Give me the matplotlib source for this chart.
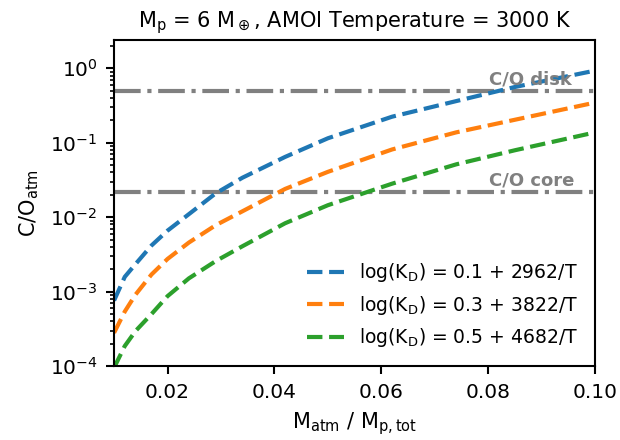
import numpy as np
import matplotlib
matplotlib.use("Agg")
import matplotlib.pyplot as plt

# mass fraction of atmosphere
x = [0.01, 0.012, 0.014, 0.017, 0.02, 0.024, 0.029, 0.034, 0.042, 0.05, 0.062, 0.074, 0.085, 0.1]

# C/O atm for each partition coefficient law
co_1 = [7.6e-4, 1.58e-3, 2.34e-3, 4.17e-3, 6.6e-3, 0.011, 0.0209, 0.0339, 0.0646, 0.115, 0.224, 0.363, 0.562, 0.933]
co_2 = [2.8e-4, 5.4e-4, 9.1e-4, 1.7e-3, 2.75e-3, 4.57e-3, 7.8e-3, 0.012, 0.024, 0.0407, 0.0813, 0.138, 0.204, 0.347]
co_3 = [9.5e-5, 1.86e-4, 2.95e-4, 5.0e-4, 8.7e-4, 1.51e-3, 2.57e-3, 4.07e-3, 8.3e-3, 0.0145, 0.0282, 0.0513, 0.0794, 0.138]
labels = [r"log(K$_{\rm D}$) = 0.1 + 2962/T",
          r"log(K$_{\rm D}$) = 0.3 + 3822/T",
          r"log(K$_{\rm D}$) = 0.5 + 4682/T"]

co_disk = 0.5
co_core = 0.022

fig = plt.figure(figsize=(6.2, 4.4), dpi=100)
ax = fig.add_axes([0.184, 0.168, 0.776, 0.741])

ax.axhline(co_disk, color="grey", ls="-.", lw=3)
ax.axhline(co_core, color="grey", ls="-.", lw=3)
ax.text(0.0802, co_disk * 1.21, "C/O disk", color="grey", fontsize=13, fontweight="bold")
ax.text(0.0802, co_core * 1.2, "C/O core", color="grey", fontsize=13, fontweight="bold")

for y, lab, c in zip([co_1, co_2, co_3], labels, ["C0", "C1", "C2"]):
    ax.plot(x, y, ls="--", lw=3, color=c, label=lab)

ax.set_yscale("log")
ax.set_xlim(0.01, 0.1)
ax.set_ylim(1e-4, 2.4)
ax.set_xticks([0.02, 0.04, 0.06, 0.08, 0.10])
ax.set_xticklabels(["0.02", "0.04", "0.06", "0.08", "0.10"])
ax.tick_params(labelsize=14.5, width=1.5, length=6, pad=6)
ax.tick_params(which="minor", width=1.2, length=3.2)
for s in ax.spines.values():
    s.set_linewidth(1.5)

ax.set_xlabel(r"M$_{\rm atm}$ / M$_{\rm p,tot}$", fontsize=15, labelpad=6)
ax.set_ylabel(r"C/O$_{\rm atm}$", fontsize=15, labelpad=6)
ax.set_title(r"M$_{\rm p}$ = 6 M$_\oplus$, AMOI Temperature = 3000 K", fontsize=15, pad=9)
ax.legend(loc="lower right", frameon=False, fontsize=13.5)

fig.savefig("out.png")
